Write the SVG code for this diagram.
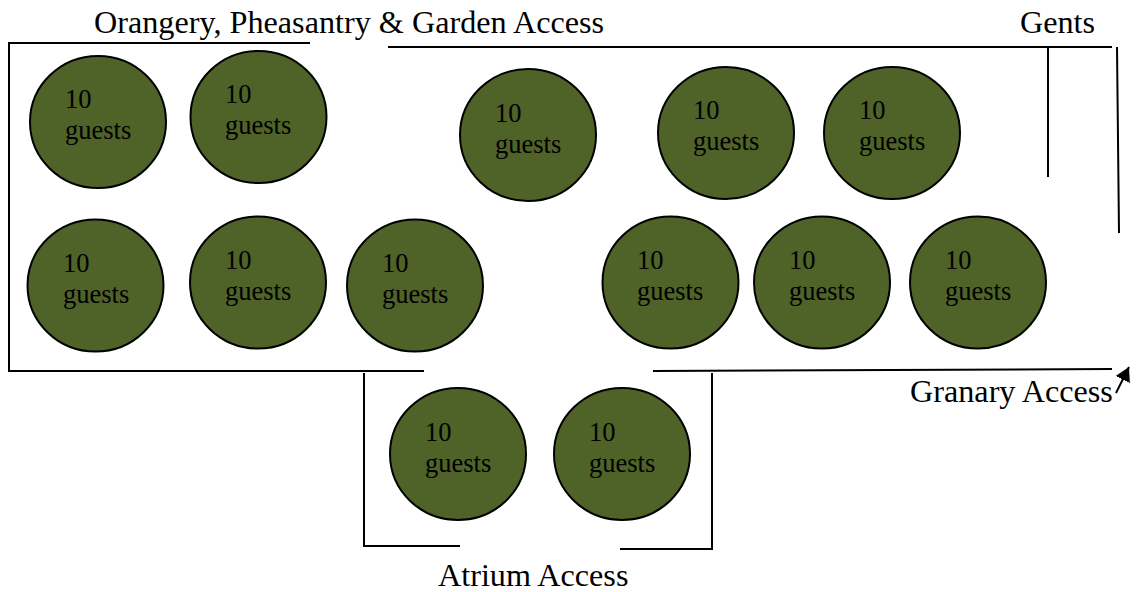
<svg xmlns="http://www.w3.org/2000/svg" width="1137" height="592" viewBox="0 0 1137 592">
<style>
text{font-family:"Liberation Serif","Times New Roman",serif;fill:#000}
.g{font-size:26.500px}
.t{font-size:32.200px}
ellipse{fill:#4f6228;stroke:#000;stroke-width:2}
.w{fill:none;stroke:#000;stroke-width:2}
</style>
<defs><marker id="a" markerUnits="userSpaceOnUse" markerWidth="16" markerHeight="16" refX="14" refY="8" orient="auto"><path d="M0 0L14 8L0 16Z" fill="#000"/></marker></defs>
<rect width="1137" height="592" fill="#fff"/>
<g id="connectors">
<path class="w" d="M310 43H9V371H424"/>
<path class="w" d="M388 47H1112"/>
<path class="w" d="M1048 47V177"/>
<path class="w" d="M1117 47L1119 233"/>
<path class="w" d="M653 371L1112 369"/>
<path class="w" d="M364 373V546H460"/>
<path class="w" d="M712 373V549H620"/>
<path class="w" d="M1116 393L1129 367" marker-end="url(#a)"/>
</g>
<g id="t1"><ellipse cx="98" cy="122" rx="68" ry="66"/><text class="g" x="65" y="108">10</text><text class="g" x="65" y="139">guests</text></g>
<g id="t2"><ellipse cx="258.500" cy="117" rx="68" ry="66"/><text class="g" x="225" y="103">10</text><text class="g" x="225" y="134">guests</text></g>
<g id="t3"><ellipse cx="528" cy="135" rx="68" ry="66"/><text class="g" x="495" y="122">10</text><text class="g" x="495" y="153">guests</text></g>
<g id="t4"><ellipse cx="726" cy="133" rx="68" ry="66"/><text class="g" x="693" y="119">10</text><text class="g" x="693" y="150">guests</text></g>
<g id="t5"><ellipse cx="892" cy="133" rx="68" ry="66"/><text class="g" x="859" y="119">10</text><text class="g" x="859" y="150">guests</text></g>
<g id="t6"><ellipse cx="95.500" cy="285.500" rx="68" ry="66"/><text class="g" x="63" y="272">10</text><text class="g" x="63" y="303">guests</text></g>
<g id="t7"><ellipse cx="258" cy="282.500" rx="68" ry="66"/><text class="g" x="225" y="269">10</text><text class="g" x="225" y="300">guests</text></g>
<g id="t8"><ellipse cx="415" cy="285.500" rx="68" ry="66"/><text class="g" x="382" y="272">10</text><text class="g" x="382" y="303">guests</text></g>
<g id="t9"><ellipse cx="670.500" cy="282.500" rx="68" ry="66"/><text class="g" x="637" y="269">10</text><text class="g" x="637" y="300">guests</text></g>
<g id="t10"><ellipse cx="822" cy="282.500" rx="68" ry="66"/><text class="g" x="789" y="269">10</text><text class="g" x="789" y="300">guests</text></g>
<g id="t11"><ellipse cx="978" cy="282.500" rx="68" ry="66"/><text class="g" x="945" y="269">10</text><text class="g" x="945" y="300">guests</text></g>
<g id="t12"><ellipse cx="458" cy="454" rx="68" ry="66"/><text class="g" x="425" y="441">10</text><text class="g" x="425" y="472">guests</text></g>
<g id="t13"><ellipse cx="622" cy="454" rx="68" ry="66"/><text class="g" x="589" y="441">10</text><text class="g" x="589" y="472">guests</text></g>
<g id="labels">
<text class="t" x="94" y="33">Orangery, Pheasantry &amp; Garden Access</text>
<text class="t" x="1020" y="33">Gents</text>
<text class="t" x="910" y="402">Granary Access</text>
<text class="t" x="438" y="586">Atrium Access</text>
</g>
</svg>
